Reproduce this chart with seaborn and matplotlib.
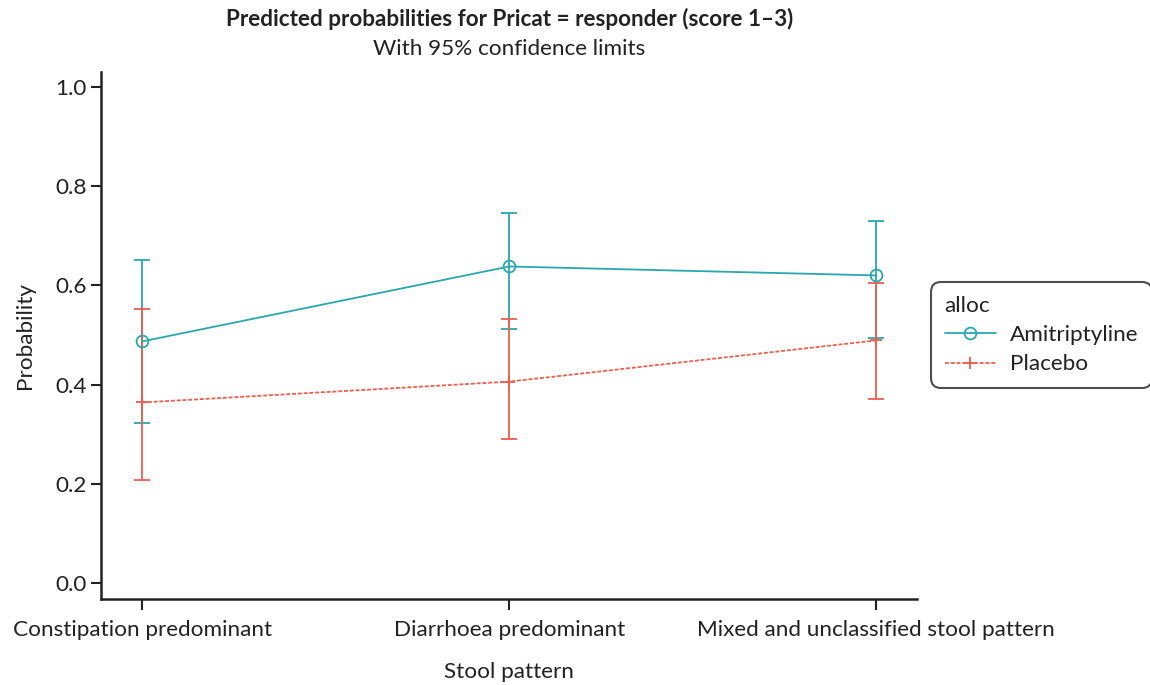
import matplotlib
matplotlib.use("Agg")
import matplotlib.pyplot as plt
import seaborn as sns
import pandas as pd
from matplotlib.lines import Line2D

categories = ["Constipation predominant", "Diarrhoea predominant", "Mixed and unclassified stool pattern"]
groups = ["Amitriptyline", "Placebo"]
ami_prob = [0.487, 0.638, 0.620]
ami_lower = [0.322, 0.513, 0.493]
ami_upper = [0.652, 0.746, 0.730]
pla_prob = [0.364, 0.406, 0.489]
pla_lower = [0.207, 0.290, 0.372]
pla_upper = [0.553, 0.533, 0.604]

colors = {"Amitriptyline": "#2AA7AE", "Placebo": "#EE5E4F"}
markers = {"Amitriptyline": "o", "Placebo": "+"}
linestyles = {"Amitriptyline": "-", "Placebo": (0, (2.2, 1.0))}
text_color = "#222222"
fs = 16.2

sns.set_theme(style="ticks")
plt.rcParams["font.family"] = ["Lato", "DejaVu Sans"]
plt.rcParams["text.color"] = text_color
plt.rcParams["axes.labelcolor"] = text_color
plt.rcParams["xtick.color"] = text_color
plt.rcParams["ytick.color"] = text_color

df = pd.DataFrame({
    "Stool pattern": categories * 2,
    "Probability": ami_prob + pla_prob,
    "lower": ami_lower + pla_lower,
    "upper": ami_upper + pla_upper,
    "alloc": [groups[0]] * 3 + [groups[1]] * 3,
})
df["x"] = [0, 1, 2] * 2

fig = plt.figure(figsize=(11.5, 6.85), dpi=100)
ax = fig.add_axes([0.0878, 0.1255, 0.7092, 0.7695])

for g in groups:
    sub = df[df["alloc"] == g]
    ax.errorbar(sub["x"], sub["Probability"],
                yerr=[sub["Probability"] - sub["lower"], sub["upper"] - sub["Probability"]],
                fmt="none", ecolor=colors[g], elinewidth=1.3, capsize=5.8, capthick=1.3, zorder=2)

for g in groups:
    sub = df[df["alloc"] == g]
    n0 = len(ax.lines)
    sns.lineplot(data=sub, x="x", y="Probability", color=colors[g],
                 marker=markers[g], linestyle=linestyles[g],
                 linewidth=1.3, markersize=8.5, ax=ax, legend=False, zorder=3)
    for ln in ax.lines[n0:]:
        ln.set_markeredgecolor(colors[g])
        ln.set_markerfacecolor("none")
        ln.set_markeredgewidth(1.3)

ax.set_xlim(-0.112, 2.11)
ax.set_ylim(-0.032, 1.03)
ax.set_xticks([0, 1, 2])
ax.set_xticklabels(categories)
ax.set_yticks([0.0, 0.2, 0.4, 0.6, 0.8, 1.0])
ax.set_yticklabels(["0.0", "0.2", "0.4", "0.6", "0.8", "1.0"])
ax.tick_params(axis="both", labelsize=fs, width=1.5, length=7, color=text_color)
ax.tick_params(axis="x", length=8, pad=7)
for s in ["left", "bottom"]:
    ax.spines[s].set_linewidth(1.8)
    ax.spines[s].set_color(text_color)
sns.despine(ax=ax)

ax.set_xlabel("Stool pattern", fontsize=fs, labelpad=16)
ax.set_ylabel("Probability", fontsize=fs, labelpad=14)

fig.text(0.443, 0.973, "Predicted probabilities for Pricat = responder (score 1\u20133)",
         ha="center", va="center", fontsize=fs, fontweight="bold")
fig.text(0.443, 0.929, "With 95% confidence limits", ha="center", va="center", fontsize=fs)

handles = [
    Line2D([], [], color=colors[g], marker=markers[g], markerfacecolor="none",
           linestyle=linestyles[g], markersize=8.5, linewidth=1.3, markeredgewidth=1.3)
    for g in groups
]
leg = fig.legend(handles, groups, title="alloc", loc="center left",
                 bbox_to_anchor=(0.8096, 0.511), fontsize=fs, title_fontsize=fs,
                 frameon=True, fancybox=True, edgecolor=text_color, handlelength=2.3,
                 handletextpad=0.6, alignment="left", borderpad=0.6, labelspacing=0.42,
                 borderaxespad=0)
leg.get_frame().set_linewidth(1.5)
leg.get_frame().set_boxstyle("round", pad=0, rounding_size=0.45)

fig.savefig("out.png", dpi=100)
